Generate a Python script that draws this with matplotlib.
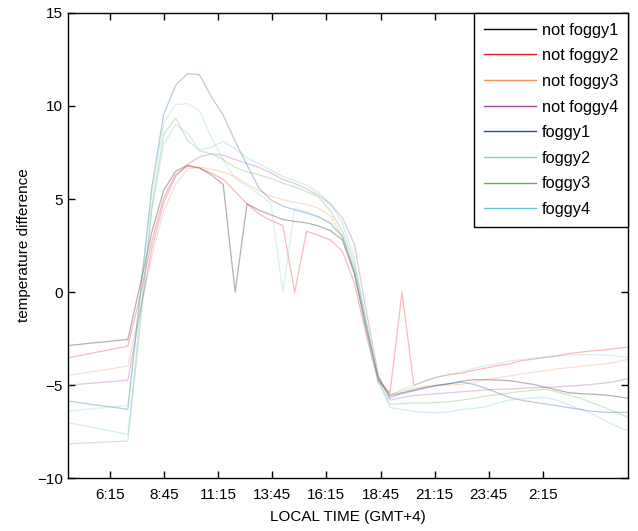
import numpy as np
import matplotlib
matplotlib.use("Agg")
import matplotlib.pyplot as plt
from matplotlib.lines import Line2D

plt.rcParams['font.family'] = ['Liberation Sans', 'DejaVu Sans']

# half-hourly samples, 48 per day
n = 48
t = np.arange(n)

labels = ['not foggy1', 'not foggy2', 'not foggy3', 'not foggy4',
          'foggy1', 'foggy2', 'foggy3', 'foggy4']
colors = ['#000000', '#ee1c24', '#f4915a', '#a0479a',
          '#1f4e9c', '#7fd6bf', '#5db14e', '#63c5d4']

not_foggy1 = [-2.86, -2.8, -2.73, -2.67, -2.6, -2.54, 0.3, 3.2, 5.46, 6.49,
              6.81, 6.67, 6.3, 5.78, 0.0, 4.74, 4.4, 4.15, 3.9, 3.8,
              3.72, 3.55, 3.3, 2.8, 1.0, -2.0, -4.6, -5.55, -5.4, -5.25,
              -5.1, -5.0, -4.92, -4.78, -4.7, -4.7, -4.72, -4.75, -4.85, -4.95,
              -5.1, -5.25, -5.4, -5.45, -5.48, -5.52, -5.6, -5.7]
not_foggy2 = [-3.52, -3.4, -3.27, -3.15, -3.02, -2.9, -0.3, 2.7, 5.06, 6.31,
              6.76, 6.67, 6.4, 6.05, 5.4, 4.74, 4.2, 3.85, 3.58, 0.0,
              3.27, 3.05, 2.8, 2.2, 0.5, -2.3, -4.8, -5.4, 0.0, -5.0,
              -4.75, -4.55, -4.42, -4.35, -4.2, -4.08, -3.95, -3.85, -3.68, -3.6,
              -3.5, -3.42, -3.3, -3.22, -3.15, -3.1, -3.02, -2.95]
not_foggy3 = [-4.47, -4.37, -4.27, -4.17, -4.07, -3.97, -1.0, 1.9, 4.35, 5.78,
              6.63, 6.7, 6.6, 6.45, 6.2, 5.8, 5.45, 5.15, 4.97, 4.82,
              4.72, 4.5, 4.1, 3.0, 1.2, -1.8, -4.7, -5.5, -5.3, -5.15,
              -5.05, -5.0, -5.0, -4.95, -4.85, -4.7, -4.6, -4.5, -4.4, -4.3,
              -4.22, -4.12, -4.05, -3.98, -3.92, -3.85, -3.75, -3.6]
not_foggy4 = [-5.0, -4.94, -4.89, -4.83, -4.78, -4.72, -1.2, 2.3, 4.8, 6.2,
              6.85, 7.26, 7.42, 7.35, 7.12, 6.9, 6.7, 6.4, 6.05, 5.83,
              5.55, 5.2, 4.72, 4.0, 2.6, -1.0, -4.4, -5.8, -5.65, -5.55,
              -5.5, -5.45, -5.4, -5.35, -5.3, -5.25, -5.22, -5.2, -5.17, -5.13,
              -5.12, -5.08, -5.04, -5.0, -4.95, -4.88, -4.78, -4.63]
foggy1 = [-5.85, -5.94, -6.03, -6.11, -6.2, -6.29, -0.3, 5.6, 9.53, 11.1,
          11.73, 11.68, 10.5, 9.5, 8.1, 6.83, 5.58, 4.95, 4.62, 4.42,
          4.25, 4.05, 3.7, 3.0, 1.1, -1.8, -4.6, -5.67, -5.45, -5.3,
          -5.15, -5.0, -4.9, -4.83, -4.95, -5.15, -5.4, -5.65, -5.8, -5.9,
          -6.0, -6.1, -6.2, -6.3, -6.4, -6.45, -6.45, -6.45]
foggy2 = [-6.38, -6.32, -6.26, -6.2, -6.14, -6.08, -0.6, 5.2, 9.08, 10.07,
          10.12, 9.75, 8.3, 7.1, 6.1, 5.7, 5.25, 4.78, 0.0, 4.49,
          4.3, 4.0, 3.7, 2.9, 1.2, -1.9, -4.8, -5.55, -5.2, -5.0,
          -4.75, -4.55, -4.42, -4.3, -4.1, -3.95, -3.85, -3.7, -3.62, -3.55,
          -3.5, -3.43, -3.38, -3.35, -3.35, -3.38, -3.43, -3.5]
foggy3 = [-8.14, -8.11, -8.08, -8.05, -8.02, -7.99, -2.0, 4.5, 8.46, 9.35,
          8.15, 7.6, 7.42, 7.12, 6.7, 6.45, 6.3, 6.1, 5.85, 5.65,
          5.4, 5.1, 4.35, 3.3, 1.5, -1.6, -4.7, -6.03, -5.98, -5.95,
          -5.95, -5.92, -5.88, -5.8, -5.7, -5.58, -5.5, -5.42, -5.33, -5.27,
          -5.22, -5.35, -5.52, -5.7, -5.95, -6.2, -6.45, -6.74]
foggy4 = [-7.01, -7.13, -7.26, -7.38, -7.51, -7.63, -1.5, 4.4, 7.92, 8.99,
          8.55, 7.65, 7.78, 8.1, 7.7, 7.2, 6.9, 6.55, 6.2, 6.0,
          5.75, 5.35, 4.75, 3.7, 1.8, -1.6, -4.8, -6.2, -6.3, -6.4,
          -6.45, -6.47, -6.42, -6.3, -6.25, -6.15, -5.95, -5.8, -5.73, -5.68,
          -5.65, -5.8, -6.05, -6.3, -6.55, -6.9, -7.2, -7.46]

series = [not_foggy1, not_foggy2, not_foggy3, not_foggy4,
          foggy1, foggy2, foggy3, foggy4]

tick_labels = ['6:15', '8:45', '11:15', '13:45', '16:15',
               '18:45', '21:15', '23:45', '2:15']

fig = plt.figure(figsize=(6.38, 5.31), dpi=100)
ax = fig.add_axes([0.107, 0.099, 0.878, 0.877])

for y, c in zip(series, colors):
    ax.plot(t, y, color=c, lw=0.9, alpha=0.3)

ax.set_xlim(0, n - 1)
ax.set_ylim(-10, 15)
ax.set_yticks(np.arange(-10, 16, 5))
ax.set_xticks(3.5 + 4.54 * np.arange(len(tick_labels)))
ax.set_xticklabels(tick_labels)
ax.tick_params(direction='in', top=True, right=True, length=5, width=1,
               labelsize=11, colors='black')
ax.tick_params(axis='x', pad=7)
ax.tick_params(axis='y', pad=4)
for s in ax.spines.values():
    s.set_linewidth(1.0)

ax.set_xlabel('LOCAL TIME (GMT+4)', fontsize=11, labelpad=6)
ax.set_ylabel('temperature difference', fontsize=11, labelpad=4)

handles = [Line2D([], [], color=c, lw=1.0) for c in colors]
leg = ax.legend(handles, labels, loc='upper right', fontsize=11.8,
                frameon=True, fancybox=False, framealpha=1,
                edgecolor='black', borderaxespad=0, handlelength=3.2,
                handletextpad=0.35, labelspacing=0.65, borderpad=0.6)
leg.get_frame().set_linewidth(1.0)

fig.savefig('out.png', dpi=100)
